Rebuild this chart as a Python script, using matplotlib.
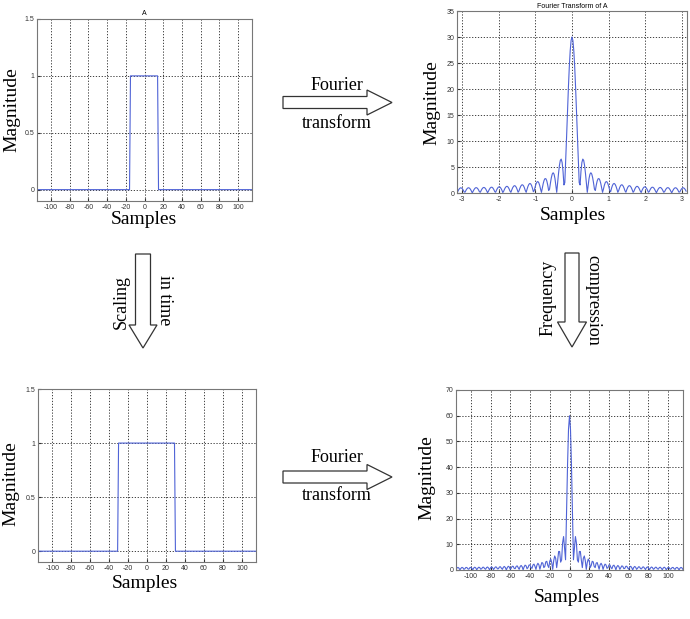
import numpy as np
import matplotlib
matplotlib.use("Agg")
import matplotlib.pyplot as plt
from matplotlib.patches import Polygon

plt.rcParams["axes.unicode_minus"] = False

# sample indices of the signal and where each rectangular pulse is 1
samples = np.arange(-128, 128)
pulse_a = (-15, 14)   # first / last sample equal to 1 (signal A)
pulse_b = (-30, 29)   # pulse after scaling in time

x_ticks = [-100, -80, -60, -40, -20, 0, 20, 40, 60, 80, 100]
pulse_yticks = [0, 0.5, 1, 1.5]
pulse_ylabels = ["0", "0.5", "1", "1.5"]
freq_ticks = [-3, -2, -1, 0, 1, 2, 3]
ft_a_yticks = [0, 5, 10, 15, 20, 25, 30, 35]
ft_b_yticks = [0, 10, 20, 30, 40, 50, 60, 70]

sig_a = ((samples >= pulse_a[0]) & (samples <= pulse_a[1])).astype(float)
sig_b = ((samples >= pulse_b[0]) & (samples <= pulse_b[1])).astype(float)
ft_a = np.abs(np.fft.fftshift(np.fft.fft(np.fft.ifftshift(sig_a))))
ft_b = np.abs(np.fft.fftshift(np.fft.fft(np.fft.ifftshift(sig_b))))
omega = 2 * np.pi * samples / len(samples)

W, H = 690, 619
BLUE = "#4f63d6"
SERIF = "Liberation Serif"
SANS = "Liberation Sans"

fig = plt.figure(figsize=(W / 100, H / 100), dpi=100)


def px_axes(l, t, r, b):
    return fig.add_axes([l / W, 1 - b / H, (r - l) / W, (b - t) / H])


def style(ax):
    ax.grid(True, linestyle=(0, (1.5, 2)), color="#222222", linewidth=0.6)
    ax.tick_params(direction="in", length=2, labelsize=5, pad=2,
                   colors="#333333")
    for lbl in ax.get_xticklabels() + ax.get_yticklabels():
        lbl.set_family(SANS)
    for s in ax.spines.values():
        s.set_color("#777777")
        s.set_linewidth(0.8)


ax1 = px_axes(37, 19, 252, 201)
ax1.plot(samples, sig_a, color=BLUE, lw=0.8)
ax1.set_xlim(-115, 115)
ax1.set_ylim(-0.1, 1.5)
ax1.set_xticks(x_ticks)
ax1.set_yticks(pulse_yticks, pulse_ylabels)
ax1.set_title("A", fontsize=5, pad=3, family=SANS)
style(ax1)

ax2 = px_axes(457, 11, 687, 193)
ax2.plot(omega, ft_a, color=BLUE, lw=0.8)
ax2.set_xlim(-np.pi, np.pi)
ax2.set_ylim(0, 35)
ax2.set_xticks(freq_ticks)
ax2.set_yticks(ft_a_yticks)
ax2.set_title("Fourier Transform of A", fontsize=5, pad=2, family=SANS)
style(ax2)

ax3 = px_axes(38, 389, 256, 562)
ax3.plot(samples, sig_b, color=BLUE, lw=0.8)
ax3.set_xlim(-115, 115)
ax3.set_ylim(-0.1, 1.5)
ax3.set_xticks(x_ticks)
ax3.set_yticks(pulse_yticks, pulse_ylabels)
style(ax3)

ax4 = px_axes(456, 390, 683, 570)
ax4.plot(samples, ft_b, color=BLUE, lw=0.8)
ax4.set_xlim(-115, 115)
ax4.set_ylim(0, 70)
ax4.set_xticks(x_ticks)
ax4.set_yticks(ft_b_yticks)
style(ax4)

# overlay in pixel coordinates for labels and arrows
ov = fig.add_axes([0, 0, 1, 1], facecolor="none")
ov.set_xlim(0, W)
ov.set_ylim(H, 0)
ov.axis("off")

lab = dict(fontsize=14, family=SERIF, ha="center", va="center")
for x, y in [(12, 110), (432, 103), (11, 484), (427, 478)]:
    ov.text(x, y, "Magnitude", rotation=90, **lab)
for x, y in [(144, 220), (573, 216), (145, 583), (567, 597)]:
    ov.text(x, y, "Samples", **lab)


def h_arrow(x0, x1, xh, yc, bh, hh):
    pts = [(x0, yc - bh), (xh, yc - bh), (xh, yc - hh), (x1, yc),
           (xh, yc + hh), (xh, yc + bh), (x0, yc + bh)]
    ov.add_patch(Polygon(pts, closed=True, fc="white", ec="#333333", lw=0.9))


def v_arrow(xc, y0, y1, yh, bw, hw):
    pts = [(xc - bw, y0), (xc + bw, y0), (xc + bw, yh), (xc + hw, yh),
           (xc, y1), (xc - hw, yh), (xc - bw, yh)]
    ov.add_patch(Polygon(pts, closed=True, fc="white", ec="#333333", lw=0.9))


txt = dict(fontsize=13, family=SERIF, ha="center", va="center")

h_arrow(283, 392, 367, 102.5, 6, 12.5)
ov.text(337, 85, "Fourier", **txt)
ov.text(337, 123, "transform", **txt)

h_arrow(283, 392, 367, 477, 6, 12.5)
ov.text(337, 457, "Fourier", **txt)
ov.text(337, 495, "transform", **txt)

v_arrow(143, 254, 348, 325, 7.5, 14)
ov.text(121, 302, "Scaling", rotation=90, **txt)
ov.text(165, 300, "in time", rotation=270, **txt)

v_arrow(572, 253, 347, 322, 7, 14.5)
ov.text(548, 298, "Frequency", rotation=90, **txt)
ov.text(593, 300, "compression", rotation=270, **txt)

fig.savefig("out.png", dpi=100, facecolor="white")
